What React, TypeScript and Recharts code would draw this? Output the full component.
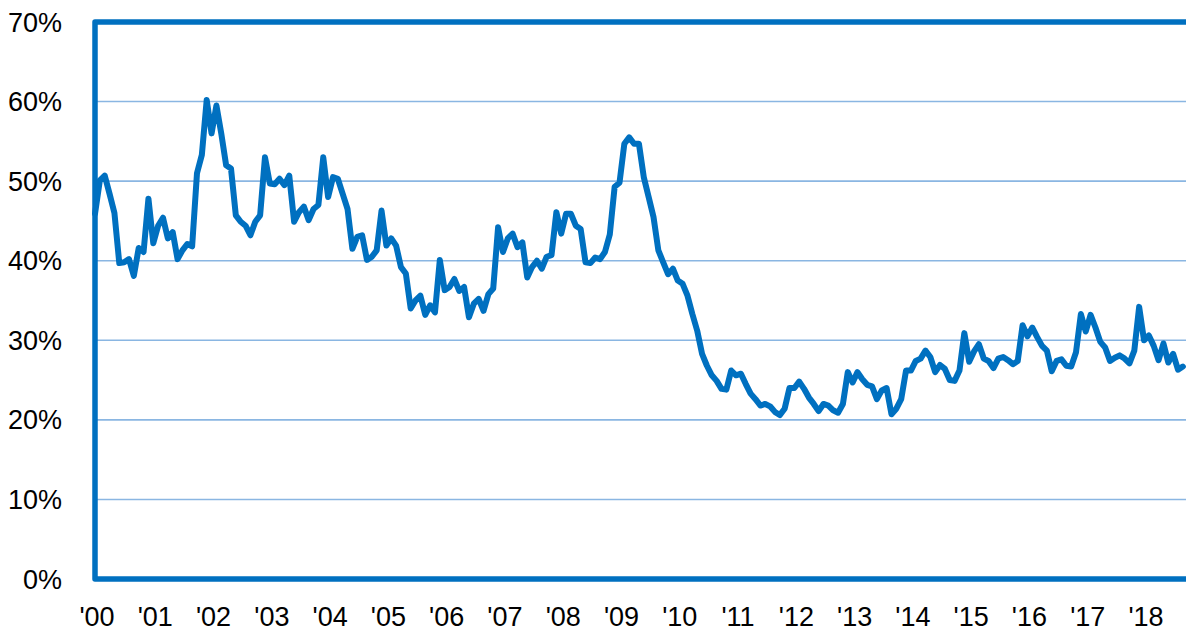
import React from "react";
import {
  LineChart,
  Line,
  XAxis,
  YAxis,
  CartesianGrid,
  ReferenceArea,
} from "recharts";

// Monthly values (%), Jan 2000 .. Sep 2018
const values: number[] = [
  45.9, 50.1, 50.7, 48.4, 46.0, 39.7, 39.8, 40.2, 38.1, 41.6, 41.1, 47.8,
  42.2, 44.4, 45.4, 42.8, 43.6, 40.2, 41.3, 42.1, 41.8, 51.0, 53.3, 60.2,
  56.0, 59.5, 56.0, 52.0, 51.6, 45.7, 44.9, 44.4, 43.2, 44.9, 45.7, 53.0,
  49.7, 49.6, 50.3, 49.5, 50.7, 44.9, 46.1, 46.8, 45.1, 46.5, 47.0, 53.0,
  48.0, 50.5, 50.3, 48.4, 46.5, 41.5, 43.0, 43.2, 40.1, 40.5, 41.3, 46.3,
  41.9, 42.8, 41.9, 39.2, 38.4, 34.0, 35.0, 35.6, 33.2, 34.4, 33.5, 40.1,
  36.3, 36.7, 37.7, 36.2, 36.7, 32.9, 34.6, 35.2, 33.7, 35.8, 36.5, 44.2,
  41.1, 42.8, 43.4, 41.7, 42.3, 37.9, 39.2, 40.0, 39.0, 40.5, 40.7, 46.1,
  43.4, 45.9, 45.9, 44.4, 44.0, 39.8, 39.7, 40.4, 40.2, 41.1, 43.3, 49.3,
  49.8, 54.7, 55.5, 54.7, 54.7, 50.5, 48.0, 45.5, 41.3, 39.8, 38.3, 39.0,
  37.5, 37.1, 35.6, 33.3, 31.2, 28.3, 26.8, 25.6, 24.9, 23.9, 23.8, 26.2,
  25.6, 25.8, 24.5, 23.3, 22.6, 21.8, 22.0, 21.7, 21.0, 20.6, 21.4, 24.0,
  24.0, 24.8, 23.9, 22.8, 22.0, 21.1, 22.0, 21.8, 21.2, 20.9, 22.0, 26.0,
  24.7, 26.0, 25.1, 24.4, 24.2, 22.6, 23.7, 24.0, 20.7, 21.4, 22.6, 26.2,
  26.2, 27.4, 27.7, 28.7, 27.9, 26.0, 26.9, 26.4, 25.0, 24.9, 26.2, 30.9,
  27.3, 28.6, 29.5, 27.7, 27.4, 26.5, 27.7, 27.9, 27.5, 27.0, 27.4, 31.9,
  30.5, 31.6, 30.4, 29.3, 28.7, 26.1, 27.4, 27.6, 26.8, 26.7, 28.5, 33.3,
  31.1, 33.2, 31.6, 29.8, 29.1, 27.4, 27.8, 28.1, 27.7, 27.1, 28.7, 34.2,
  30.0, 30.6, 29.3, 27.5, 29.6, 27.2, 28.3, 26.3, 26.7,
];

const yearLabels: string[] = [
  "'00", "'01", "'02", "'03", "'04", "'05", "'06", "'07", "'08", "'09",
  "'10", "'11", "'12", "'13", "'14", "'15", "'16", "'17", "'18",
];

const yTicks: number[] = [0, 10, 20, 30, 40, 50, 60, 70];

const data = values.map((v, i) => ({ m: i, v }));
const xTicks = yearLabels.map((_, k) => k * 12);

const BLUE = "#0070C0";
const GRID = "#8AB6E2";
const FONT = "'Liberation Sans', Arial, sans-serif";

export default function App() {
  return (
    <div style={{ width: 1186, height: 632, overflow: "hidden", position: "relative", background: "#fff" }}>
      <style>{"html,body{margin:0;padding:0;overflow:hidden;background:#fff}"}</style>
      <LineChart
        width={1220}
        height={632}
        data={data}
        margin={{ top: 22, right: 8, bottom: 0, left: 0 }}
      >
        <CartesianGrid horizontal={true} vertical={false} stroke={GRID} strokeWidth={1.6} />
        <XAxis
          dataKey="m"
          type="number"
          domain={[0, 230]}
          ticks={xTicks}
          tickFormatter={(v: number) => yearLabels[Math.round(v / 12)] ?? ""}
          axisLine={false}
          tickLine={false}
          tickSize={6}
          tickMargin={22}
          height={53}
          interval={0}
          tick={{ fill: "#000", fontSize: 27, fontFamily: FONT, dx: 2 }}
        />
        <YAxis
          type="number"
          domain={[0, 70]}
          ticks={yTicks}
          tickFormatter={(v: number) => `${v}%`}
          axisLine={false}
          tickLine={false}
          tickSize={6}
          tickMargin={27}
          width={95}
          interval={0}
          tick={{ fill: "#000", fontSize: 27, fontFamily: FONT }}
        />
        <ReferenceArea
          x1={0}
          x2={230}
          y1={0}
          y2={70}
          fill="none"
          fillOpacity={0}
          stroke={BLUE}
          strokeWidth={5.5}
          strokeLinejoin="round"
          ifOverflow="visible"
        />
        <Line
          type="linear"
          dataKey="v"
          stroke={BLUE}
          strokeWidth={6}
          strokeLinejoin="round"
          strokeLinecap="round"
          dot={false}
          activeDot={false}
          isAnimationActive={false}
        />
      </LineChart>
    </div>
  );
}
